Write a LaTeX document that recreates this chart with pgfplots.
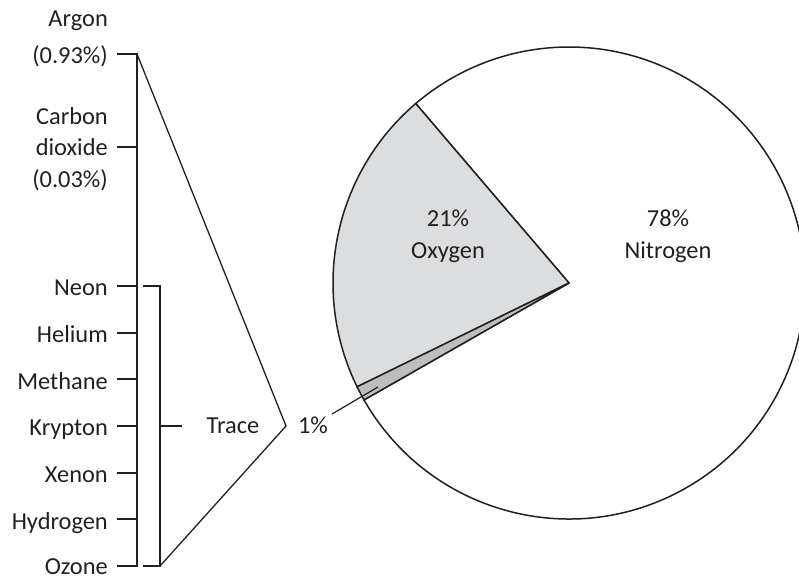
\documentclass[border=0pt]{standalone}
\usepackage{pgfplots}
\pgfplotsset{compat=1.18}
\usepackage{fontspec}
\setmainfont{Carlito}

\definecolor{ink}{HTML}{231F20}
\definecolor{oxy}{HTML}{DCDDDF}
\definecolor{trc}{HTML}{BDBEC0}

% shares of the air, in percent
\def\pctO{21}
\def\pctT{1}
\def\pctN{78}
\pgfmathsetmacro\aA{130.5}
\pgfmathsetmacro\aB{\aA+\pctO*3.6}
\pgfmathsetmacro\aC{\aB+\pctT*3.6}
\pgfmathsetmacro\aD{\aC+\pctN*3.6}

\begin{document}
\begin{tikzpicture}[lbl/.style={font=\fontsize{24.5}{28}\selectfont, text=ink, inner sep=0pt}]
\begin{axis}[name=ax, width=799bp, height=579bp, scale only axis,
  xmin=0, xmax=799, ymin=0, ymax=579, enlargelimits=false, hide axis]
  % pie
  \filldraw[fill=white, draw=ink, line width=1.5bp] (axis cs:569,296) -- ++(\aC:236bp)
    arc[start angle=\aC, end angle=\aD, radius=236bp] -- cycle;
  \filldraw[fill=oxy, draw=ink, line width=1.5bp] (axis cs:569,296) -- ++(\aA:236bp)
    arc[start angle=\aA, end angle=\aB, radius=236bp] -- cycle;
  \filldraw[fill=trc, draw=ink, line width=1.5bp] (axis cs:569,296) -- ++(\aB:236bp)
    arc[start angle=\aB, end angle=\aC, radius=236bp] -- cycle;
  \draw[ink, line width=1.2bp] (axis cs:332,165) -- (axis cs:378,192);
  \node[lbl, anchor=base] at (axis cs:448,352) {21\%};
  \node[lbl, anchor=base] at (axis cs:448,320) {Oxygen};
  \node[lbl, anchor=base] at (axis cs:668,352) {78\%};
  \node[lbl, anchor=base] at (axis cs:668,320) {Nitrogen};
  \node[lbl, anchor=base] at (axis cs:313,145) {1\%};
  % callout
  \draw[ink, line width=1.3bp] (axis cs:137,525) -- (axis cs:286,153) -- (axis cs:160,13);
  \draw[ink, line width=1.8bp] (axis cs:117,525) -- (axis cs:137,525) -- (axis cs:137,13) -- (axis cs:117,13);
  \draw[ink, line width=1.8bp] (axis cs:117,432) -- (axis cs:137,432);
  \pgfplotsinvokeforeach{293,246.33,199.67,153,106.33,59.67}{
    \draw[ink, line width=1.8bp] (axis cs:117,#1) -- (axis cs:137,#1);
  }
  \draw[ink, line width=2bp] (axis cs:143,293) -- (axis cs:160,293) -- (axis cs:160,13) -- (axis cs:143,13);
  \draw[ink, line width=1.8bp] (axis cs:160,153) -- (axis cs:182,153);
  \node[lbl, anchor=base] at (axis cs:233,145) {Trace};
  % labels
  \node[lbl, anchor=base east] at (axis cs:108,552) {Argon};
  \node[lbl, anchor=base east] at (axis cs:108,515) {(0.93\%)};
  \node[lbl, anchor=base east] at (axis cs:108,454) {Carbon};
  \node[lbl, anchor=base east] at (axis cs:108,423) {dioxide};
  \node[lbl, anchor=base east] at (axis cs:108,391) {(0.03\%)};
  \node[lbl, anchor=base east] at (axis cs:108,283) {Neon};
  \node[lbl, anchor=base east] at (axis cs:108,236.33) {Helium};
  \node[lbl, anchor=base east] at (axis cs:108,189.67) {Methane};
  \node[lbl, anchor=base east] at (axis cs:108,143) {Krypton};
  \node[lbl, anchor=base east] at (axis cs:108,96.33) {Xenon};
  \node[lbl, anchor=base east] at (axis cs:108,49.67) {Hydrogen};
  \node[lbl, anchor=base east] at (axis cs:108,5) {Ozone};
\end{axis}
\pgfresetboundingbox
\useasboundingbox (ax.south west) rectangle (ax.north east);
\end{tikzpicture}
\end{document}
